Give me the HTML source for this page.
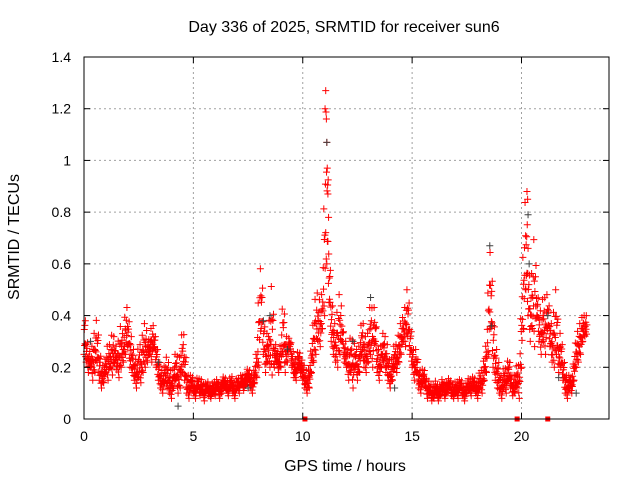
<!DOCTYPE html>
<html><head><meta charset="utf-8"><style>
html,body{margin:0;padding:0;background:#fff;}
svg{display:block;font-family:"Liberation Sans",sans-serif;}
</style></head><body>
<svg id="c" width="640" height="480" viewBox="0 0 640 480">
<rect width="640" height="480" fill="#fff"/>
<text x="344" y="32" font-size="16" text-anchor="middle" fill="#000">Day 336 of 2025, SRMTID for receiver sun6</text>
<text x="345" y="471" font-size="16" text-anchor="middle" fill="#000">GPS time / hours</text>
<text transform="translate(19,237) rotate(-90)" font-size="16" text-anchor="middle" fill="#000">SRMTID / TECUs</text>
<g id="grid"></g><g id="marks"></g><g id="axes"></g>
</svg>
<script>
const xTicks=[0,5,10,15,20];
const yTicks=[0,0.2,0.4,0.6,0.8,1,1.2,1.4];
const yTickLabels=["0","0.2","0.4","0.6","0.8","1","1.2","1.4"];
const lowVals=[.25,.22,.18,.2,.15,.18,.22,.15,.12,.14,
.18,.15,.2,.17,.22,.19,.16,.2,.22,.25,
.28,.2,.18,.15,.12,.16,.14,.18,.2,.22,
.25,.22,.28,.2,.15,.12,.1,.14,.12,.1,
.08,.12,.15,.1,.12,.18,.15,.1,.08,.12,
.1,.08,.12,.09,.1,.07,.11,.09,.08,.1,
.09,.12,.08,.1,.13,.11,.09,.12,.1,.08,
.12,.1,.14,.11,.13,.15,.12,.1,.14,.16,
.2,.35,.25,.18,.22,.2,.17,.2,.22,.18,
.2,.25,.18,.22,.28,.2,.16,.15,.2,.18,
.15,.12,.1,.12,.18,.22,.25,.3,.28,.35,
.4,.6,.45,.3,.25,.22,.2,.25,.3,.22,
.2,.15,.18,.12,.2,.15,.18,.25,.2,.18,
.22,.25,.2,.3,.18,.15,.2,.22,.18,.15,
.12,.15,.2,.18,.22,.25,.3,.28,.32,.25,
.2,.15,.18,.12,.1,.14,.12,.08,.1,.07,
.08,.1,.07,.09,.11,.08,.1,.12,.09,.08,
.1,.08,.12,.09,.07,.1,.11,.09,.12,.1,
.08,.12,.1,.15,.18,.25,.35,.2,.15,.12,
.1,.08,.12,.1,.15,.12,.09,.1,.12,.08,
.2,.35,.5,.4,.3,.35,.28,.4,.3,.25,
.3,.25,.35,.28,.22,.2,.25,.18,.2,.15,
.1,.08,.12,.1,.15,.2,.22,.25,.3,.32];
const highVals=[.48,.32,.28,.25,.3,.35,.4,.28,.22,.2,
.25,.3,.28,.35,.3,.27,.32,.38,.3,.45,
.42,.35,.3,.25,.22,.3,.28,.35,.38,.32,
.3,.38,.35,.3,.25,.2,.18,.22,.25,.2,
.18,.2,.28,.22,.25,.37,.3,.2,.15,.18,
.15,.12,.18,.14,.16,.12,.15,.14,.12,.15,
.14,.16,.13,.15,.17,.15,.14,.17,.16,.13,
.17,.15,.18,.16,.18,.2,.18,.17,.2,.28,
.55,.6,.45,.3,.35,.4,.58,.3,.28,.25,
.3,.5,.35,.3,.32,.28,.25,.22,.28,.24,
.22,.2,.18,.2,.3,.4,.5,.48,.45,.5,
1.0,1.3,.7,.5,.4,.35,.45,.5,.4,.3,
.3,.25,.35,.28,.3,.25,.3,.4,.35,.3,
.35,.48,.4,.45,.3,.25,.3,.35,.3,.28,
.2,.25,.3,.28,.35,.38,.4,.45,.53,.4,
.3,.25,.28,.2,.18,.2,.18,.14,.15,.12,
.14,.15,.12,.14,.16,.13,.15,.16,.14,.13,
.15,.14,.16,.14,.12,.15,.16,.15,.17,.15,
.14,.2,.18,.25,.3,.6,.67,.45,.3,.25,
.2,.15,.22,.18,.25,.2,.15,.18,.22,.2,
.5,.7,.92,.65,.5,.6,.75,.5,.45,.4,
.5,.45,.5,.4,.35,.45,.53,.3,.35,.25,
.2,.15,.18,.15,.25,.32,.35,.38,.4,.4];
const spikeTimes=[11.02,11.05,11.08,11.1,11.12,11.15,11.18,20.25,20.28,20.3];
const spikeVals=[1.2,1.27,1.16,1.07,0.97,0.87,0.78,0.88,0.85,0.66];
const grayTimes=[0.3,3.4,4.3,7.5,8.2,8.5,9.3,11.1,12.3,13.1,14.2,18.55,18.62,20.3,20.35,21.2,21.7,22.5];
const grayVals=[0.3,0.22,0.05,0.12,0.38,0.4,0.27,1.07,0.3,0.47,0.12,0.67,0.36,0.79,0.6,0.4,0.16,0.1];
const zeroTimes=[10.1,19.8,21.2];
const L=84,R=609,T=57,B=419,xMax=24,yMax=1.4;
const xs=v=>L+v/xMax*(R-L), ys=v=>B-v/yMax*(B-T);
const NS="http://www.w3.org/2000/svg";
function mk(tag,attrs,parent){const e=document.createElementNS(NS,tag);for(const k in attrs)e.setAttribute(k,attrs[k]);parent.appendChild(e);return e;}
const grid=document.getElementById('grid'),marks=document.getElementById('marks'),axes=document.getElementById('axes');
xTicks.forEach(t=>{
 if(t>0){const g=mk('line',{x1:xs(t),x2:xs(t),y1:T,y2:B,stroke:'#a0a0a0','stroke-dasharray':'2,3'},grid);
 
 }
 mk('line',{x1:xs(t),x2:xs(t),y1:B,y2:B-6,stroke:'#000'},axes);
 mk('line',{x1:xs(t),x2:xs(t),y1:T,y2:T+6,stroke:'#000'},axes);
 const tx=mk('text',{x:xs(t),y:B+22,'font-size':14,'text-anchor':'middle',fill:'#000'},axes);tx.textContent=t;
 
 
});
yTicks.forEach((t,i)=>{
 if(t>0&&t<yMax){const g=mk('line',{x1:L,x2:R,y1:ys(t),y2:ys(t),stroke:'#a0a0a0','stroke-dasharray':'2,3'},grid);
 
 }
 mk('line',{x1:L,x2:L+6,y1:ys(t),y2:ys(t),stroke:'#000'},axes);
 mk('line',{x1:R,x2:R-6,y1:ys(t),y2:ys(t),stroke:'#000'},axes);
 const tx=mk('text',{x:L-13,y:ys(t)+5,'font-size':14,'text-anchor':'end',fill:'#000'},axes);tx.textContent=yTickLabels[i];
 
 
});
const frame=mk('rect',{x:L,y:T,width:R-L,height:B-T,fill:'none',stroke:'#000'},axes);


function plus(x,y,c){const p=mk('path',{d:`M${x-3.5},${y}h7M${x},${y-3.5}v7`,stroke:c,'stroke-width':1,fill:'none'},marks);
 
 }
const fracs=[0,0.55,0.25,0.8,0.4,1,0.12,0.65];
lowVals.forEach((lo,i)=>{
 const hi=highVals[i];
 fracs.forEach((f,k)=>{
  const nb=i+1<lowVals.length?i+1:i;
  const t=k/fracs.length;
  const l2=lo*(1-t)+lowVals[nb]*t, h2=hi*(1-t)+highVals[nb]*t;
  plus(xs((i+t)*0.1),ys(l2+(h2-l2)*f*(k===5?1:0.85)),'#ff0000');
 });
});
spikeVals.forEach((v,i)=>plus(xs(spikeTimes[i]),ys(v),'#ff0000'));
grayVals.forEach((v,i)=>plus(xs(grayTimes[i]),ys(v),'#404040'));
zeroTimes.forEach(t=>{const r=mk('rect',{x:xs(t)-2.5,y:B-2.5,width:5,height:5,fill:'#ff0000'},marks);
 
 });
</script>
</body></html>
